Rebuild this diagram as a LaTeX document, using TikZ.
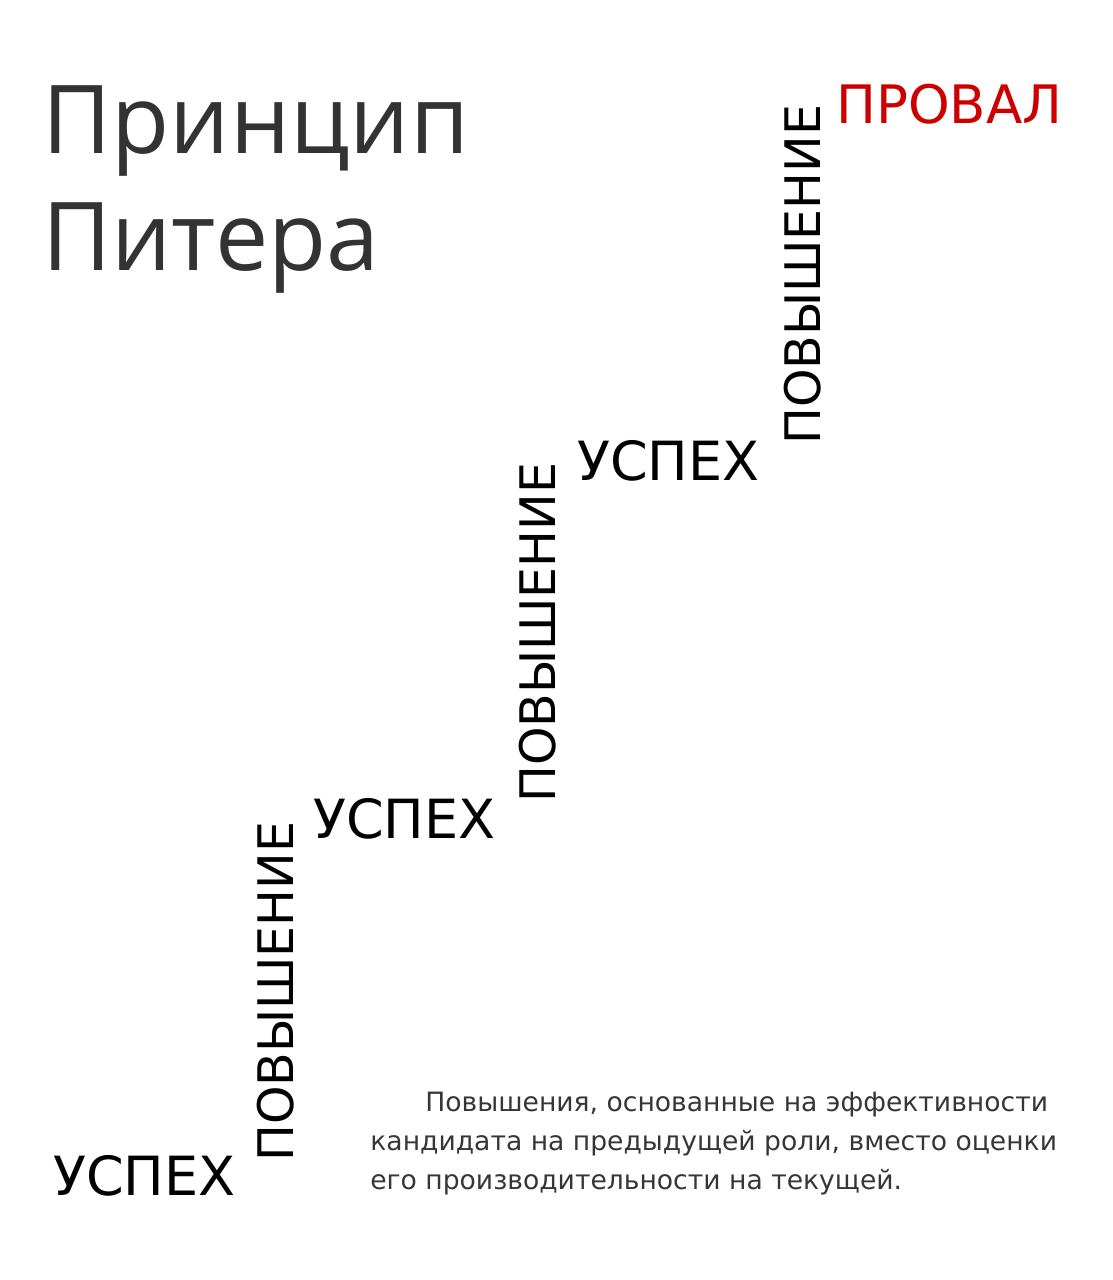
\documentclass[tikz,border=0pt]{standalone}
\usepackage{fontspec}
\setmainfont{DejaVu Sans}
\newfontfamily\titlefont{Open Sans}
\usepackage{tikz}
\usetikzlibrary{positioning}
\definecolor{titlegray}{HTML}{333333}
\definecolor{notegray}{HTML}{363636}
\definecolor{failred}{HTML}{CC0000}
\tikzset{every picture/.style={line width=0.75pt}}
\tikzset{succ/.style={anchor=base west, inner sep=0pt, font=\fontsize{54}{60}\selectfont},
         promo/.style={rotate=90, anchor=base west, inner sep=0pt, font=\fontsize{49}{55}\selectfont},
         heading/.style={anchor=north west, inner sep=0pt, align=left, text=titlegray,
                         font=\titlefont\fontsize{95}{117}\selectfont},
         note/.style={anchor=north west, inner sep=0pt, align=left,
                      text=notegray, font=\fontsize{26.6}{39}\selectfont}}

\begin{document}
\begin{tikzpicture}[x=1pt,y=-1pt]
  \useasboundingbox (0,0) rectangle (1113,1280);
  \node [heading] (title) at (42,85) {Принцип\\Питера};

  \node [succ]  (s1) at (53,1195) {УСПЕХ};
  \node [promo] (p1) at (293,1162) {ПОВЫШЕНИЕ};
  \node [succ]  (s2) at (313,838) {УСПЕХ};
  \node [promo] (p2) at (555,803) {ПОВЫШЕНИЕ};
  \node [succ]  (s3) at (577,480) {УСПЕХ};
  \node [promo] (p3) at (820,445) {ПОВЫШЕНИЕ};
  \node [succ, text=failred, font=\fontsize{53}{60}\selectfont] (fail) at (836,123) {ПРОВАЛ};

  \node [note] (text) at (370,1092) {\hspace*{55pt}Повышения, основанные на эффективности\\
    кандидата на предыдущей роли, вместо оценки\\
    его производительности на текущей.};
\end{tikzpicture}
\end{document}
